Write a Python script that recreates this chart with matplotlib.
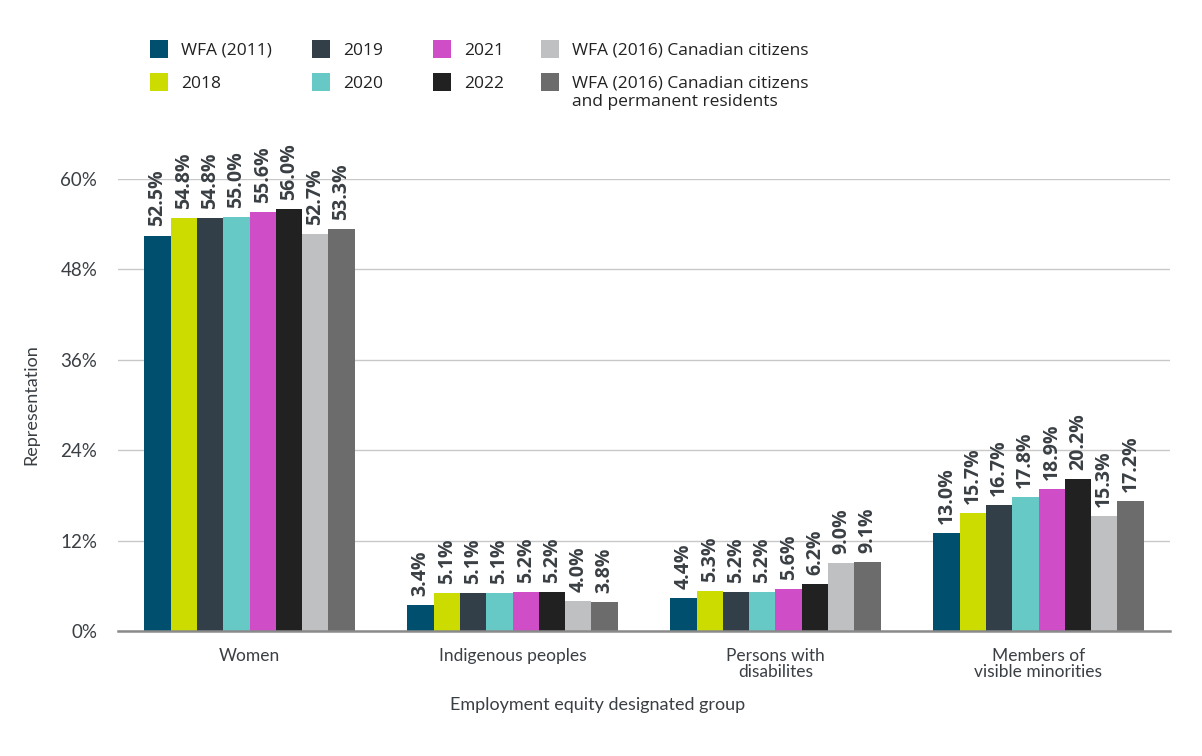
import matplotlib
matplotlib.use("Agg")
import matplotlib.pyplot as plt
from matplotlib.patches import Patch
import numpy as np

categories = ["Women", "Indigenous peoples", "Persons with\ndisabilites", "Members of\nvisible minorities"]
series_names = ["WFA (2011)", "2018", "2019", "2020", "2021", "2022",
                "WFA (2016) Canadian citizens",
                "WFA (2016) Canadian citizens"]
last_label_line2 = "and permanent residents"
wfa_2011 = [52.5, 3.4, 4.4, 13.0]
y2018 = [54.8, 5.1, 5.3, 15.7]
y2019 = [54.8, 5.1, 5.2, 16.7]
y2020 = [55.0, 5.1, 5.2, 17.8]
y2021 = [55.6, 5.2, 5.6, 18.9]
y2022 = [56.0, 5.2, 6.2, 20.2]
wfa_2016_cit = [52.7, 4.0, 9.0, 15.3]
wfa_2016_cit_pr = [53.3, 3.8, 9.1, 17.2]
series = [wfa_2011, y2018, y2019, y2020, y2021, y2022, wfa_2016_cit, wfa_2016_cit_pr]
colors = ["#004f6e", "#cddc00", "#323e48", "#66c9c6", "#cf4ec8", "#212121", "#bfc0c2", "#6b6c6b"]
yticks = [0, 12, 24, 36, 48, 60]

W, H = 1202, 756
fig = plt.figure(figsize=(W / 100, H / 100), dpi=100)
ax = fig.add_axes([118 / W, 1 - 631 / H, (1170 - 118) / W, (631 - 179) / H])

x = np.arange(len(categories))
bw = 0.1
label_color = "#3a3f44"
for i, (vals, c) in enumerate(zip(series, colors)):
    pos = x - 0.35 + i * bw
    ax.bar(pos, vals, width=bw, color=c, zorder=3, linewidth=0)
    for p, v in zip(pos, vals):
        ax.text(p, v + 1.2, f"{v:.1f}%", rotation=90, ha="center", va="bottom",
                fontsize=14, fontweight="bold", color=label_color,
                family=["Open Sans", "DejaVu Sans"], zorder=4)

ax.set_xlim(-0.5, 3.5)
ax.set_ylim(0, 60)
ax.set_yticks(yticks)
ax.set_yticklabels([f"{t}%" for t in yticks], family="Lato", fontsize=13.5, color="#3a3f44")
ax.set_xticks(x)
ax.set_xticklabels(categories, family="Lato", fontsize=12.5, color="#3a3f44", linespacing=1.05)
ax.tick_params(axis="both", length=0)
ax.tick_params(axis="y", pad=15)
ax.tick_params(axis="x", pad=12)
ax.grid(axis="y", color="#c8c8c8", linewidth=1, zorder=0)
for s in ["top", "right", "left"]:
    ax.spines[s].set_visible(False)
ax.spines["bottom"].set_color("#8a8a8a")
ax.spines["bottom"].set_linewidth(1.8)
ax.spines["bottom"].set_zorder(5)

ax.set_xlabel("Employment equity designated group", family="Lato", fontsize=13,
              color="#3a3f44")
ax.xaxis.set_label_coords((598 - 118) / 1052, -(705 - 631) / 452)
ax.xaxis.label.set_va("center")
ax.set_ylabel("Representation", family="Lato", fontsize=13, color="#3a3f44")
ax.yaxis.set_label_coords(-(118 - 31) / 1052, 0.5)
ax.yaxis.label.set_va("center")

handles = [Patch(facecolor=c, edgecolor="none") for c in colors]
col_x = [150, 312, 433, 541]
for k in range(4):
    leg = fig.legend(handles[2 * k:2 * k + 2], series_names[2 * k:2 * k + 2],
                     loc="upper left", bbox_to_anchor=(col_x[k] / W, 1 - 40 / H),
                     frameon=False, ncol=1, handlelength=1.05, handleheight=1.2,
                     handletextpad=0.75, labelspacing=0.82, borderaxespad=0, borderpad=0,
                     prop={"family": ["Open Sans", "DejaVu Sans"], "size": 12.5})
    for t in leg.get_texts():
        t.set_color("#222222")

fig.text(572 / W, 1 - 102 / H, last_label_line2, family=["Open Sans", "DejaVu Sans"],
         fontsize=12.5, color="#222222", va="center", ha="left")

fig.savefig("out.png", dpi=100)
